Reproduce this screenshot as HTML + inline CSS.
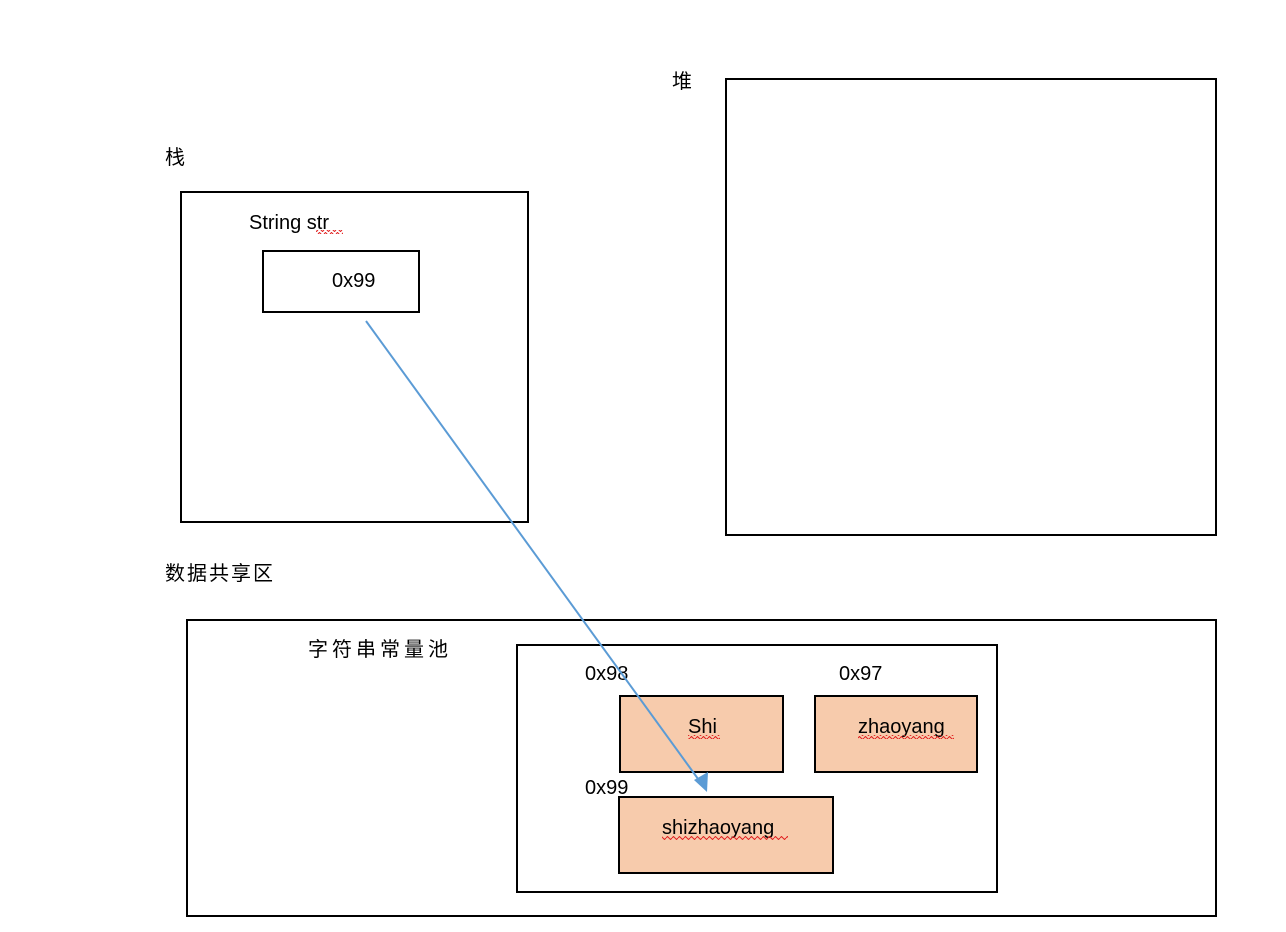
<!DOCTYPE html>
<html><head><meta charset="utf-8"><style>
html,body{margin:0;padding:0;background:#fff;}
svg{display:block;}
text{font-family:"Liberation Sans","Noto Sans CJK SC",sans-serif;fill:#000;}
</style></head><body>
<svg width="1286" height="932" viewBox="0 0 1286 932" xmlns="http://www.w3.org/2000/svg">
<defs>
<pattern id="wavy" width="6" height="4" patternUnits="userSpaceOnUse"><path d="M0 2 L1.5 0.5 L4.5 3.5 L6 2" stroke="#e02020" stroke-width="1" fill="none"/></pattern>
</defs>
<g font-size="20">
<text x="165" y="164" font-family="Noto Serif CJK SC, serif">栈</text>
<text x="672" y="88" font-family="Noto Serif CJK SC, serif">堆</text>
<text x="165" y="580" font-family="Noto Serif CJK SC, serif" letter-spacing="2">数据共享区</text>
<text x="308" y="656" font-family="Noto Serif CJK SC, serif" letter-spacing="4">字符串常量池</text>
</g>
<g fill="none" stroke="#000" stroke-width="2">
<rect x="181" y="192" width="347" height="330"/>
<rect x="726" y="79" width="490" height="456"/>
<rect x="187" y="620" width="1029" height="296"/>
<rect x="517" y="645" width="480" height="247"/>
<rect x="263" y="251" width="156" height="61"/>
</g>
<g fill="#f7cbac" stroke="#000" stroke-width="2">
<rect x="620" y="696" width="163" height="76"/>
<rect x="815" y="696" width="162" height="76"/>
<rect x="619" y="797" width="214" height="76"/>
</g>
<g font-size="20">
<text x="249" y="229">String str</text>
<text x="332" y="287">0x99</text>
<text x="585" y="680">0x98</text>
<text x="839" y="680">0x97</text>
<text x="585" y="794">0x99</text>
<text x="688" y="733">Shi</text>
<text x="858" y="733">zhaoyang</text>
<text x="662" y="834">shizhaoyang</text>
</g>
<g fill="url(#wavy)">
<rect x="316" y="230" width="27" height="4"/>
<rect x="688" y="735" width="32" height="4"/>
<rect x="858" y="735" width="96" height="4"/>
<rect x="662" y="836" width="126" height="4"/>
</g>
<line x1="366" y1="321" x2="701" y2="783" stroke="#5b9bd5" stroke-width="2"/>
<polygon points="707,792 694,780 708,772" fill="#5b9bd5"/>
</svg>
</body></html>
